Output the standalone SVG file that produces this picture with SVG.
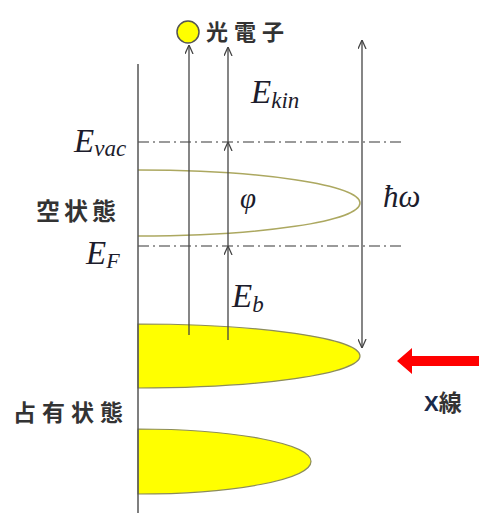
<svg xmlns="http://www.w3.org/2000/svg" width="479" height="513" viewBox="0 0 479 513">
<style>
.ax{stroke:#555;stroke-width:1.5;fill:none}
.ln{stroke:#444;stroke-width:1.3;fill:none}
.dd{stroke:#7a7a7a;stroke-width:1.5;stroke-dasharray:11,4,2,4;fill:none}
.m{font-family:"Liberation Serif",serif;font-style:italic;fill:#1c1c2c}
.jp{font-family:"Noto Sans CJK JP",sans-serif;font-weight:bold;fill:#333}
.occ{fill:#ffff00;stroke:#8c8c5a;stroke-width:1.2}
</style>
<defs>
<marker id="ah" viewBox="0 0 10 10" refX="10" refY="5" markerWidth="9" markerHeight="9" markerUnits="userSpaceOnUse" orient="auto">
<path d="M0,0.5 L10,5 L0,9.5" fill="none" stroke="#444" stroke-width="1.4"/>
</marker>
</defs>
<rect width="479" height="513" fill="#fff"/>

<g id="empty-states">
<path d="M138,170 A222,33 0 0 1 138,236" fill="none" stroke="#aca860" stroke-width="1.5"/>
</g>
<g id="occupied-upper">
<path class="occ" d="M138,324 A222,32 0 0 1 138,388 Z"/>
</g>
<g id="occupied-lower">
<path class="occ" d="M138,429 A173,32.5 0 0 1 138,494 Z"/>
</g>

<g id="levels">
<line class="dd" x1="138" y1="142" x2="402" y2="142"/>
<line class="dd" x1="138" y1="246" x2="402" y2="246"/>
</g>

<g id="axis">
<line class="ax" x1="138" y1="64" x2="138" y2="513"/>
</g>

<g id="connectors">
<line class="ln" x1="189" y1="335" x2="189" y2="45" marker-end="url(#ah)"/>
<line class="ln" x1="228" y1="340" x2="228" y2="246" marker-end="url(#ah)"/>
<line class="ln" x1="228" y1="246" x2="228" y2="142" marker-end="url(#ah)"/>
<line class="ln" x1="228" y1="142" x2="228" y2="47" marker-end="url(#ah)"/>
<line class="ln" x1="362" y1="194" x2="362" y2="40" marker-end="url(#ah)"/>
<line class="ln" x1="362" y1="194" x2="362" y2="348" marker-end="url(#ah)"/>
</g>

<g id="photoelectron">
<circle cx="188" cy="32" r="11" fill="#ffff00" stroke="#555" stroke-width="1.5"/>
<text class="jp" x="206" y="40" font-size="22" letter-spacing="6">光電子</text>
</g>

<g id="xray">
<polygon points="397,361 412,348 412,356 479,356 479,366 412,366 412,374" fill="#ff0000"/>
<text x="424" y="411" font-family="Liberation Sans,sans-serif" font-weight="bold" font-size="22" fill="#1a2a4a">X<tspan class="jp" font-size="23">線</tspan></text>
</g>

<g id="labels">
<text class="m" x="74" y="152" font-size="33">E<tspan font-size="23" dy="4">vac</tspan></text>
<text class="m" x="86" y="264" font-size="33">E<tspan font-size="22" dy="4">F</tspan></text>
<text class="m" x="251" y="103" font-size="33">E<tspan font-size="23" dy="5">kin</tspan></text>
<text class="m" x="232" y="307" font-size="33">E<tspan font-size="23" dy="5">b</tspan></text>
<text class="m" x="240" y="208" font-size="29">φ</text>
<text class="m" x="383" y="207" font-size="31">ħω</text>
<text class="jp" x="36" y="220" font-size="24" letter-spacing="4">空状態</text>
<text class="jp" x="13" y="421" font-size="23" letter-spacing="6">占有状態</text>
</g>
</svg>
